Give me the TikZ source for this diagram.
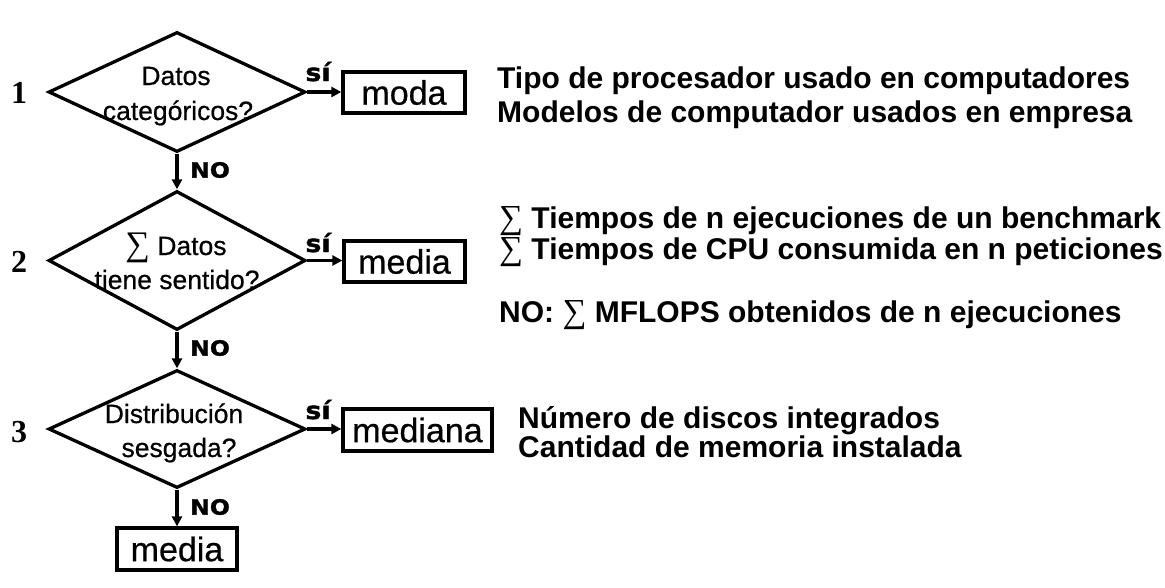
\documentclass[tikz,border=0pt]{standalone}
\usepackage{fontspec}
\setmainfont{Liberation Sans}
\newfontfamily\regfont[FakeBold=0.6]{Liberation Sans}
\newfontfamily\sigfont{Liberation Serif}
\newfontfamily\labfont[FakeStretch=1.12,FakeBold=1.5]{DejaVu Sans Bold}
\newfontfamily\numfont{Liberation Serif Bold}
\usetikzlibrary{shapes.geometric,arrows.meta}
\tikzset{
  diam/.style={diamond, draw, line width=3.3pt, minimum width=257pt, inner sep=0pt},
  resbox/.style={rectangle, draw, line width=3.3pt, inner sep=0pt, minimum height=41pt, font=\regfont\fontsize{34}{40}\selectfont},
  dtext/.style={anchor=base, inner sep=0pt, font=\regfont\fontsize{26.5}{30}\selectfont},
  rt/.style={anchor=base west, inner sep=0pt, font=\bfseries\fontsize{30}{34}\selectfont},
  silab/.style={anchor=base, inner sep=0pt, font=\labfont\fontsize{24}{26}\selectfont},
  nolab/.style={anchor=west, inner sep=0pt, font=\labfont\fontsize{21}{24}\selectfont},
  numlab/.style={inner sep=0pt, font=\numfont\fontsize{32}{36}\selectfont},
  arr/.style={line width=3.3pt, -{Triangle[length=10pt,width=10pt]}}
}
\newcommand{\sgm}{\scalebox{1.12}{\sigfont\mdseries ∑}}
\newcommand{\sgmd}{\scalebox{1.3}{\sigfont\mdseries ∑}}
\begin{document}
\begin{tikzpicture}[x=1pt,y=-1pt]
\useasboundingbox (0,0) rectangle (1165,587);
% diamonds
\node[diam, minimum height=120pt] (d1) at (177,92) {};
\node[diam, minimum height=139pt] (d2) at (177,260.5) {};
\node[diam, minimum height=118pt] (d3) at (177,429) {};
% diamond texts
\node[dtext] (d1a) at (176,85) {Datos};
\node[dtext] (d1b) at (178,120) {categóricos?};
\node[dtext] (d2a) at (176,255) {\sgmd\ Datos};
\node[dtext] (d2b) at (177,289) {tiene sentido?};
\node[dtext] (d3a) at (174,423) {Distribución};
\node[dtext] (d3b) at (179,457) {sesgada?};
% result boxes
\node[resbox, minimum width=122pt] (b1) at (404,92.5) {moda};
\node[resbox, minimum width=121pt] (b2) at (404.5,261.5) {media};
\node[resbox, minimum width=149pt, minimum height=42pt] (b3) at (417.5,430) {mediana};
\node[resbox, minimum width=120pt, minimum height=42pt] (b4) at (177,549) {media};
% connectors
\draw[arr] (d1.east) -- (d1.east -| b1.west);
\draw[arr] (d2.east) -- (d2.east -| b2.west);
\draw[arr] (d3.east) -- (d3.east -| b3.west);
\draw[arr] (d1.south) -- (d2.north);
\draw[arr] (d2.south) -- (d3.north);
\draw[arr] (d3.south) -- (b4.north);
% labels
\node[silab] (s1) at (318,81) {sí};
\node[silab] (s2) at (318,252) {sí};
\node[silab] (s3) at (318,419) {sí};
\node[nolab] (n1) at (190,170) {NO};
\node[nolab] (n2) at (190,348) {NO};
\node[nolab] (n3) at (190,507) {NO};
\node[numlab] (k1) at (19,93) {1};
\node[numlab] (k2) at (19,262) {2};
\node[numlab] (k3) at (19,432) {3};
% right texts
\node[rt] (t1a) at (497,88) {Tipo de procesador usado en computadores};
\node[rt] (t1b) at (497,122) {Modelos de computador usados en empresa};
\node[rt] (t2a) at (499,228) {\sgm\ Tiempos de n ejecuciones de un benchmark};
\node[rt] (t2b) at (499,259) {\sgm\ Tiempos de CPU consumida en n peticiones};
\node[rt] (t2c) at (499,322) {NO: \sgm\ MFLOPS obtenidos de n ejecuciones};
\node[rt] (t3a) at (518,428) {Número de discos integrados};
\node[rt] (t3b) at (518,457) {Cantidad de memoria instalada};
\end{tikzpicture}
\end{document}
